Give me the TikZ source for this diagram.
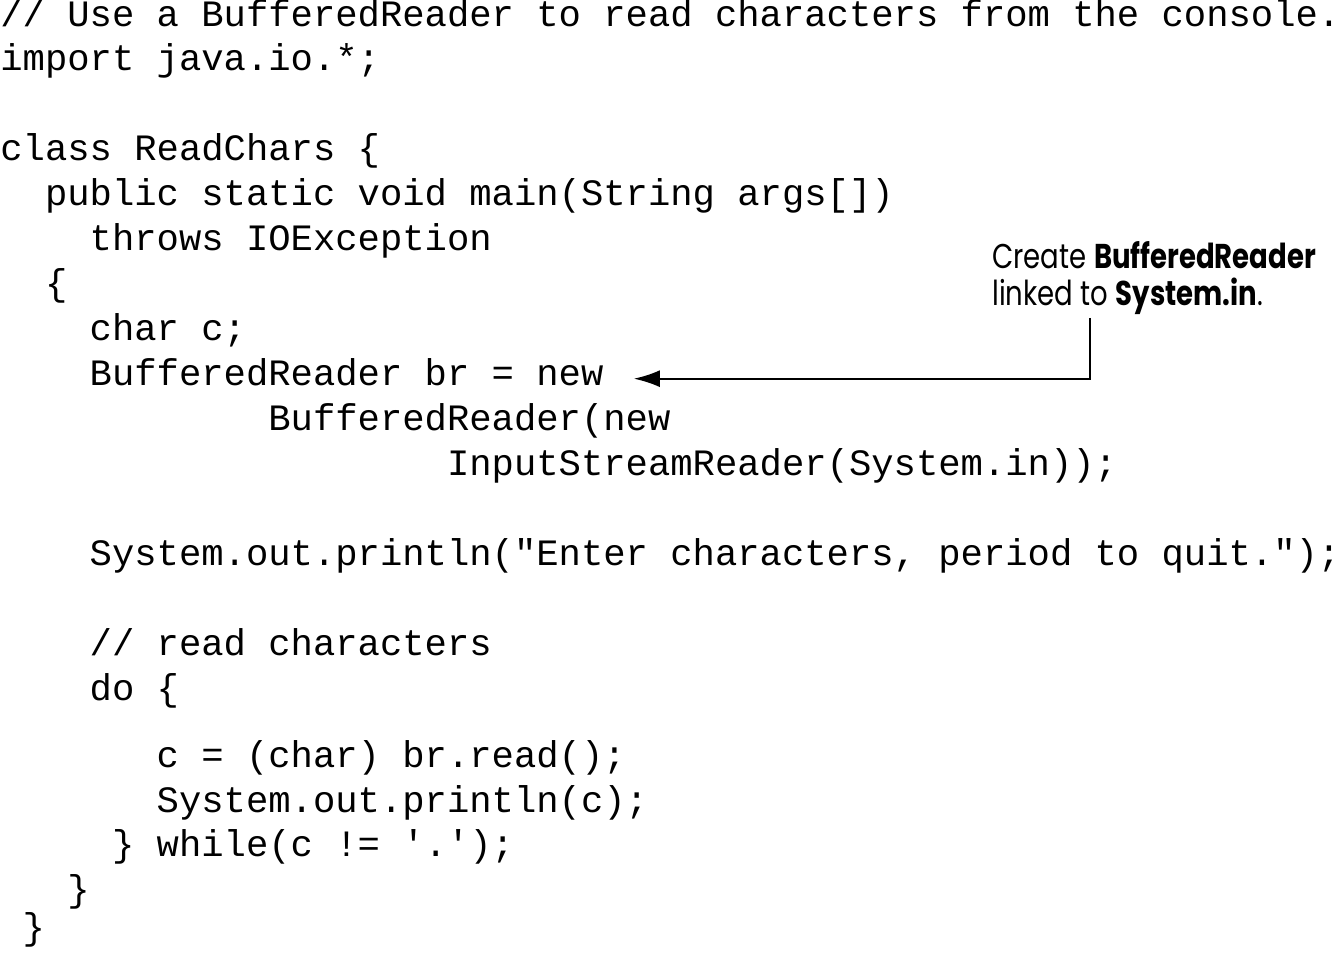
\documentclass[tikz,border=0pt]{standalone}
\usepackage{fontspec}
\newfontfamily\codefont{Liberation Mono}
\newfontfamily\notefont[FakeStretch=0.8]{Poppins}
\usetikzlibrary{arrows.meta}

\begin{document}
\begin{tikzpicture}[x=0.5pt, y=-0.5pt,
    code/.style={anchor=base west, inner sep=0, font=\codefont\fontsize{18.61}{22}\selectfont},
    note/.style={anchor=base west, inner sep=0, align=left, font=\notefont\fontsize{17.2}{18.5}\selectfont},
    pointer/.style={line width=1pt, -{Latex[length=13pt, width=8.5pt]}, shorten >=15pt}]
        \useasboundingbox (0, 0) rectangle (1340, 956);

        \node[code] (comment) at (0, 27) {// Use a BufferedReader to read characters from the console.};
        \node[code] (import) at (0, 71) {import java.io.*;};
        \node[code] (cls) at (0, 161) {class ReadChars \{};
        \node[code] (mainsig) at (44.67, 206) {public static void main(String args[])};
        \node[code] (throws) at (89.33, 251) {throws IOException};
        \node[code] (mainopen) at (44.67, 296) {\{};
        \node[code] (chardecl) at (89.33, 341) {char c;};
        \node[code] (brdecl) at (89.33, 386) {BufferedReader br = new};
        \node[code] (brnew) at (268, 431) {BufferedReader(new};
        \node[code] (isr) at (446.67, 476) {InputStreamReader(System.in));};
        \node[code] (prompt) at (89.33, 566) {System.out.println("Enter characters, period to quit.");};

        % loop
        \node[code] (readcmt) at (89.33, 656) {// read characters};
        \node[code] (doline) at (89.33, 701) {do \{};
        \node[code] (readc) at (156.33, 768) {c = (char) br.read();};
        \node[code] (printc) at (156.33, 813) {System.out.println(c);};
        \node[code] (whileline) at (111.67, 857) {\} while(c != '.');};
        \node[code] (mainclose) at (67, 902) {\}};
        \node[code] (clsclose) at (22.33, 940) {\}};

        % callout (base is its last line)
        \node[note] (callout) at (992, 306) {Create \textbf{BufferedReader}\\linked to \textbf{System.in}.};
        \coordinate (calloutfoot) at (1090, 318);
        \draw[pointer] (calloutfoot) |- ([yshift=1.5pt]brdecl.mid east);
      \end{tikzpicture}
\end{document}
